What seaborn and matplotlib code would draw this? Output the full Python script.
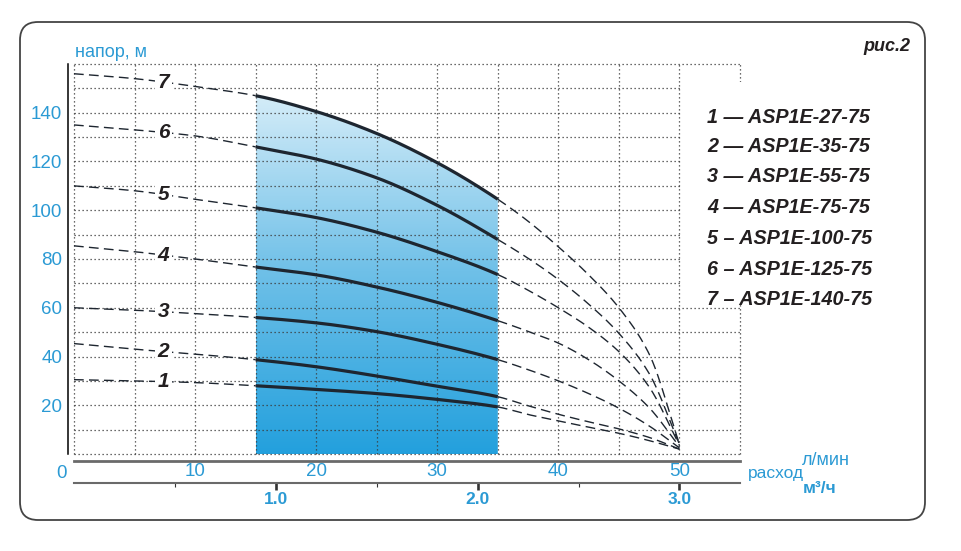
import numpy as np
import pandas as pd
import matplotlib
matplotlib.use("Agg")
import matplotlib.pyplot as plt
import seaborn as sns
from matplotlib.patches import FancyBboxPatch, Rectangle, Polygon
from matplotlib.transforms import IdentityTransform
from matplotlib.colors import LinearSegmentedColormap

# ---------------- data ----------------
flow_lpm = [0, 5, 10, 15, 20, 25, 30, 35, 37.5, 40, 42.5, 45, 47.5, 50]
head_1 = [30.5, 30, 29.3, 28, 26.5, 24.8, 22.4, 19.3, 16.2, 13.6, 11, 8.5, 5.5, 2]
head_2 = [45.3, 43, 41, 38.7, 35.8, 32, 27.8, 23.5, 19.8, 16.3, 13.2, 10.3, 6.8, 2]
head_3 = [60, 59, 57.6, 56, 53.8, 50.2, 45, 38.7, 34.6, 30, 24.8, 18.8, 11.5, 2.5]
head_4 = [85.4, 83, 80, 76.7, 73.5, 68.5, 62.2, 54.7, 50.3, 45.5, 38.7, 30, 19, 3]
head_5 = [110, 108, 104.5, 101, 97, 91, 83, 73.6, 67.2, 60, 52, 42, 27.5, 3.5]
head_6 = [135, 133, 130.5, 126, 121, 113.3, 102, 88, 80.3, 71.6, 61.5, 49.5, 33, 4]
head_7 = [156, 154, 150.8, 147, 140.5, 131.5, 119.5, 104.5, 95.5, 85, 73.5, 60, 41, 4]
curves = [head_1, head_2, head_3, head_4, head_5, head_6, head_7]
curve_ids = ["1", "2", "3", "4", "5", "6", "7"]
models = ["1 — ASP1E-27-75", "2 — ASP1E-35-75", "3 — ASP1E-55-75",
          "4 — ASP1E-75-75", "5 – ASP1E-100-75", "6 – ASP1E-125-75",
          "7 – ASP1E-140-75"]
work_range = [15, 35]           # l/min, working zone
lpm_ticks = [10, 20, 30, 40, 50]
m3h_major = [1.0, 2.0, 3.0]
m3h_minor = [0.5, 1.5, 2.5]
head_ticks = [20, 40, 60, 80, 100, 120, 140]

BLUE = "#2b9ad4"
DARK = "#1e2630"
TXT = "#231f20"


def pchip(x, y, xn):
    """Shape-preserving cubic used only to draw the read points as a smooth line."""
    x = np.asarray(x, float)
    y = np.asarray(y, float)
    h = np.diff(x)
    dl = np.diff(y) / h
    n = len(x)
    d = np.zeros(n)
    for k in range(1, n - 1):
        if dl[k - 1] * dl[k] > 0:
            w1 = 2 * h[k] + h[k - 1]
            w2 = h[k] + 2 * h[k - 1]
            d[k] = (w1 + w2) / (w1 / dl[k - 1] + w2 / dl[k])
    d[0] = dl[0]
    d[-1] = dl[-1]
    idx = np.clip(np.searchsorted(x, xn) - 1, 0, n - 2)
    t = (xn - x[idx]) / h[idx]
    hh = h[idx]
    h00 = 2 * t**3 - 3 * t**2 + 1
    h10 = t**3 - 2 * t**2 + t
    h01 = -2 * t**3 + 3 * t**2
    h11 = t**3 - t**2
    return h00 * y[idx] + h10 * hh * d[idx] + h01 * y[idx + 1] + h11 * hh * d[idx + 1]


sns.set_theme(style="white")
plt.rcParams["font.family"] = ["Liberation Sans", "DejaVu Sans"]

W, H = 961, 551
fig = plt.figure(figsize=(W / 100, H / 100), dpi=100)
fig.patch.set_facecolor("white")

L, R, T, B = 74, 740, 64, 454
ax = fig.add_axes([L / W, 1 - B / H, (R - L) / W, (B - T) / H])
ax.set_facecolor("none")

# long data frame of drawn lines
qd = np.linspace(flow_lpm[0], flow_lpm[-1], 501)
frames = []
for cid, hv in zip(curve_ids, curves):
    frames.append(pd.DataFrame({"curve": cid, "q": qd, "h": pchip(flow_lpm, hv, qd)}))
df = pd.concat(frames, ignore_index=True)

# gradient fill under the top curve in the working range
c7 = df[(df.curve == "7") & (df.q >= work_range[0]) & (df.q <= work_range[1])]
poly_pts = list(zip(c7.q, c7.h)) + [(work_range[1], 0), (work_range[0], 0)]
poly = Polygon(poly_pts, closed=True, transform=ax.transData, facecolor="none", edgecolor="none")
ax.add_patch(poly)
cmap = LinearSegmentedColormap.from_list("g", ["#23a0dd", "#6fc0e8", "#d8eef9"])
grad = np.linspace(0, 1, 256).reshape(-1, 1)
im = ax.imshow(grad, extent=[work_range[0], work_range[1], 0, 150], origin="lower",
               cmap=cmap, aspect="auto", zorder=1)
im.set_clip_path(poly)
ax.set_xlim(0, 55)
ax.set_ylim(0, 160)

# dotted grid
grid_kw = dict(color="#3a3a3a", linewidth=0.9, linestyles=(0, (1, 2.2)), zorder=1.5, clip_on=False)
ax.vlines(np.arange(0, 56, 5), 0, 160, **grid_kw)
ax.hlines(np.arange(0, 161, 10), 0, 55, **grid_kw)

# white patch behind legend
ax.add_patch(Rectangle((50.15, 61), 7, 91.5, facecolor="white", edgecolor="none",
                       zorder=2, clip_on=False))

# curves
eps = 1e-9
for cid in curve_ids:
    d = df[df.curve == cid]
    solid = d[(d.q >= work_range[0] - eps) & (d.q <= work_range[1] + eps)]
    left = d[d.q <= work_range[0] + eps]
    right = d[d.q >= work_range[1] - eps]
    for part in (left, right):
        sns.lineplot(data=part, x="q", y="h", ax=ax, color=DARK, linewidth=1.0,
                     zorder=3, estimator=None, sort=False)
        ax.lines[-1].set_dashes((7, 3.8))
    sns.lineplot(data=solid, x="q", y="h", ax=ax, color=DARK, linewidth=2.3,
                 zorder=4, estimator=None, sort=False)
    ax.lines[-1].set_solid_capstyle("butt")

# curve number labels
lab_x = 7.4
for cid, hv in zip(curve_ids, curves):
    yv = np.interp(lab_x, flow_lpm, hv)
    ax.text(lab_x, yv, cid, ha="center", va="center", fontsize=15, fontweight="bold",
            fontstyle="italic", color=TXT, zorder=5,
            bbox=dict(facecolor="white", edgecolor="none", boxstyle="square,pad=0.12"))

ax.set_xlabel("")
ax.set_ylabel("")

# spines
for s in ["top", "right"]:
    ax.spines[s].set_visible(False)
ax.spines["left"].set_position(("outward", 4.3))
ax.spines["left"].set_color("black")
ax.spines["left"].set_linewidth(1.1)
ax.spines["bottom"].set_position(("outward", 5.0))
ax.spines["bottom"].set_color("#6a6a6a")
ax.spines["bottom"].set_linewidth(2.0)

ax.set_yticks(head_ticks)
ax.set_yticklabels([str(v) for v in head_ticks])
ax.tick_params(axis="y", length=0, pad=4.3, labelsize=13.5, labelcolor=BLUE)
ax.set_xticks(lpm_ticks)
ax.set_xticklabels([str(v) for v in lpm_ticks])
ax.tick_params(axis="x", length=0, pad=1.6, labelsize=13.5, labelcolor=BLUE)
ax.text(-1.0, -0.027, "0", transform=ax.get_xaxis_transform(), ha="center", va="top",
        fontsize=13.5, color=BLUE)

# secondary m3/h axis
sec = ax.secondary_xaxis((B - 482.5) / (B - T), functions=(lambda x: x * 0.06, lambda x: x / 0.06))
sec.spines["bottom"].set_color("#6a6a6a")
sec.spines["bottom"].set_linewidth(1.5)
sec.set_xticks(m3h_major)
sec.set_xticklabels([f"{v:.1f}" for v in m3h_major])
sec.set_xticks(m3h_minor, minor=True)
sec.tick_params(axis="x", which="major", length=5, width=1.9, color="#333333", pad=1.5,
                labelsize=12.5, labelcolor=BLUE)
sec.tick_params(axis="x", which="minor", length=3, width=0.8, color="#333333")
for t in sec.get_xticklabels():
    t.set_fontweight("bold")


def fx(px):
    return px / W


def fy(py):
    return 1 - py / H


fig.text(fx(75), fy(57), "напор, м", fontsize=13, color=BLUE, va="baseline")
fig.text(fx(910), fy(51), "рис.2", fontsize=13, color=TXT, fontweight="bold",
         fontstyle="italic", ha="right", va="baseline")
fig.text(fx(748), fy(478), "расход", fontsize=12.5, color=BLUE, va="baseline")
fig.text(fx(802), fy(465), "л/мин", fontsize=13, color=BLUE, va="baseline")
fig.text(fx(803), fy(493), "м³/ч", fontsize=12.5, color=BLUE, va="baseline", fontweight="bold")

leg_y = [116, 145, 175, 206, 237, 268, 298]
for txt, yc in zip(models, leg_y):
    fig.text(fx(707), fy(yc + 6.8), txt, fontsize=14.2, color=TXT, fontweight="bold",
             fontstyle="italic", va="baseline")

# rounded frame
frame = FancyBboxPatch((20, H - 520), 905, 498, boxstyle="round,pad=0,rounding_size=18",
                       transform=IdentityTransform(), facecolor="none", edgecolor="#444444",
                       linewidth=1.3)
fig.patches.append(frame)

fig.savefig("out.png", dpi=100, facecolor="white")
